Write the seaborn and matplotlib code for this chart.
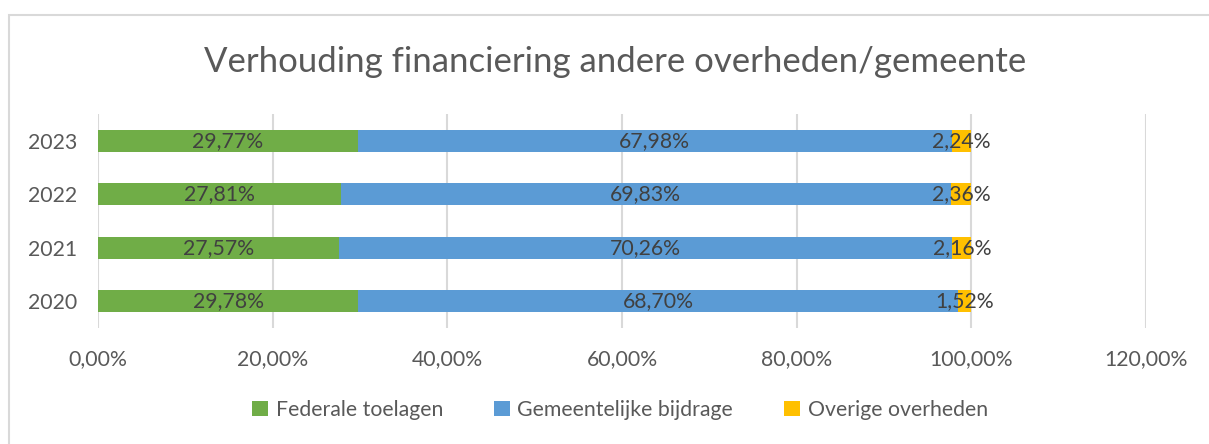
import numpy as np
import pandas as pd
import seaborn as sns
import matplotlib.pyplot as plt
from matplotlib.patches import Rectangle

sns.set_style("white")
plt.rcParams["font.family"] = ["Lato", "DejaVu Sans"]

years = ["2023", "2022", "2021", "2020"]
federale = [29.77, 27.81, 27.57, 29.78]
gemeente = [67.98, 69.83, 70.26, 68.70]
overige = [2.24, 2.36, 2.16, 1.52]

series_names = ["Federale toelagen", "Gemeentelijke bijdrage", "Overige overheden"]
colors = ["#70AD47", "#5B9BD5", "#FFC000"]
FS = 15.3

df = pd.DataFrame({"jaar": years, series_names[0]: federale,
                   series_names[1]: gemeente, series_names[2]: overige})
cum = df[series_names].cumsum(axis=1)

fig = plt.figure(figsize=(12.09, 4.44), dpi=100)
ax = fig.add_axes([98 / 1209, 1 - 328 / 444, (1146 - 98) / 1209, (328 - 114) / 444])

# stacked bars: draw cumulative totals from the outside in
for name, color in reversed(list(zip(series_names, colors))):
    sns.barplot(x=cum[name], y=df["jaar"], order=years, orient="h",
                color=color, width=0.41, saturation=1, edgecolor="none",
                linewidth=0, ax=ax, label=name, legend=False)

# data labels centered in each segment
for name in series_names:
    for i, yr in enumerate(years):
        val = df.loc[i, name]
        mid = cum.loc[i, name] - val / 2
        ax.text(mid, i, f"{val:.2f}%".replace(".", ","), ha="center", va="center",
                fontsize=FS, color="#404040")

ax.set_xlim(0, 120)
ax.set_xticks(np.arange(0, 121, 20))
ax.set_xticklabels([f"{v:.2f}%".replace(".", ",") for v in np.arange(0, 121, 20)])
ax.set_ylim(3.5, -0.5)
ax.xaxis.grid(True, color="#D9D9D9", linewidth=1.5)
ax.set_axisbelow(True)
for s in ax.spines.values():
    s.set_visible(False)
ax.tick_params(axis="both", length=0, labelsize=FS, labelcolor="#595959")
ax.tick_params(axis="x", pad=15)
ax.tick_params(axis="y", pad=15)
ax.set_xlabel("")
ax.set_ylabel("")

handles, labels = ax.get_legend_handles_labels()
if ax.get_legend() is not None:
    ax.get_legend().remove()
order = [labels.index(n) for n in series_names]
fig.legend([handles[i] for i in order], series_names, loc="center",
           bbox_to_anchor=(620 / 1209, 1 - 410 / 444), ncol=3, frameon=False,
           fontsize=FS, labelcolor="#595959", handlelength=0.75, handleheight=0.75,
           handletextpad=0.35, columnspacing=2.4)

fig.text(615 / 1209, 1 - 62 / 444, "Verhouding financiering andere overheden/gemeente",
         ha="center", va="center", fontsize=25, color="#595959")

fig.patches.append(Rectangle((9 / 1209, -0.1), 1.2, 1 - 15 / 444 + 0.1,
                             transform=fig.transFigure, fill=False,
                             edgecolor="#D9D9D9", linewidth=1.5))

fig.savefig("out.png", dpi=100)
